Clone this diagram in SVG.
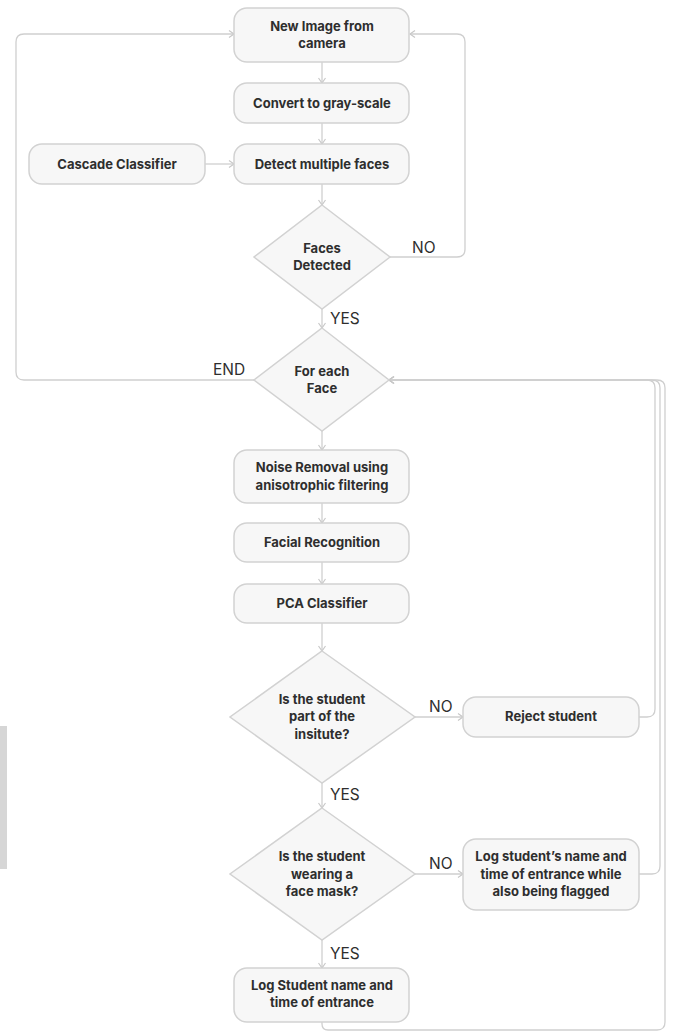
<svg xmlns="http://www.w3.org/2000/svg" width="674" height="1032" viewBox="0 0 674 1032">
<defs>
<marker id="arr" markerUnits="userSpaceOnUse" markerWidth="10" markerHeight="10" refX="6" refY="4" orient="auto">
<path d="M1,0.5 L6,4 L1,7.5" fill="none" stroke="#c8c8c8" stroke-width="1.2"/>
</marker>
</defs>
<style>
.box{fill:#f7f7f7;stroke:#d2d2d2;stroke-width:1.5}
.t{font-family:Inter,"Liberation Sans",sans-serif;font-weight:700;font-size:13px;fill:#2e2e2e;text-anchor:middle}
.lbl{font-family:Inter,"Liberation Sans",sans-serif;font-weight:400;font-size:15.5px;fill:#2e2e2e}
.c{fill:none;stroke:#cfcfcf;stroke-width:1.3}
</style>
<rect width="674" height="1032" fill="#ffffff"/>
<rect x="0" y="726" width="7" height="143" fill="#d6d6d6"/>
<g id="connectors">
<path class="c" d="M322 62 V83" marker-end="url(#arr)"/>
<path class="c" d="M322 123 V144" marker-end="url(#arr)"/>
<path class="c" d="M205 164 H234" marker-end="url(#arr)"/>
<path class="c" d="M322 184 V205" marker-end="url(#arr)"/>
<path class="c" d="M390 257 H457 Q465 257 465 249 V42 Q465 34 457 34 H410" marker-end="url(#arr)"/>
<path class="c" d="M322 309 V328" marker-end="url(#arr)"/>
<path class="c" d="M254 380 H24 Q16 380 16 372 V42 Q16 34 24 34 H234" marker-end="url(#arr)"/>
<path class="c" d="M322 431 V450" marker-end="url(#arr)"/>
<path class="c" d="M322 503 V523" marker-end="url(#arr)"/>
<path class="c" d="M322 562 V584" marker-end="url(#arr)"/>
<path class="c" d="M322 623 V651" marker-end="url(#arr)"/>
<path class="c" d="M415 717 H463" marker-end="url(#arr)"/>
<path class="c" d="M639 717 H647 Q655 717 655 709 V388 Q655 380 647 380 H389" marker-end="url(#arr)"/>
<path class="c" d="M322 783 V808" marker-end="url(#arr)"/>
<path class="c" d="M415 874 H463" marker-end="url(#arr)"/>
<path class="c" d="M639 874 H652 Q660 874 660 866 V388 Q660 380 652 380 H389" marker-end="url(#arr)"/>
<path class="c" d="M322 940 V968" marker-end="url(#arr)"/>
<path class="c" d="M322 1022 V1024 Q322 1030 328 1030 H657 Q665 1030 665 1022 V388 Q665 380 657 380 H389" marker-end="url(#arr)"/>
<text class="lbl" x="412" y="253">NO</text>
<text class="lbl" x="330" y="324">YES</text>
<text class="lbl" x="213" y="375">END</text>
<text class="lbl" x="429" y="712">NO</text>
<text class="lbl" x="330" y="800">YES</text>
<text class="lbl" x="429" y="869">NO</text>
<text class="lbl" x="330" y="959">YES</text>
</g>
<g id="new-image">
<rect class="box" x="234" y="8" width="175" height="54" rx="13"/>
<text class="t" x="322" y="31">New Image from</text>
<text class="t" x="322" y="48">camera</text>
</g>
<g id="gray-scale">
<rect class="box" x="234" y="83" width="175" height="40" rx="13"/>
<text class="t" x="322" y="108">Convert to gray-scale</text>
</g>
<g id="cascade">
<rect class="box" x="29" y="144" width="176" height="40" rx="13"/>
<text class="t" x="117" y="169">Cascade Classifier</text>
</g>
<g id="detect">
<rect class="box" x="234" y="144" width="175" height="40" rx="13"/>
<text class="t" x="322" y="169">Detect multiple faces</text>
</g>
<g id="faces-detected">
<polygon class="box" points="322,205 390,257 322,309 254,257"/>
<text class="t" x="322" y="253">Faces</text>
<text class="t" x="322" y="270">Detected</text>
</g>
<g id="for-each">
<polygon class="box" points="322,328 389,380 322,431 254,380"/>
<text class="t" x="322" y="376">For each</text>
<text class="t" x="322" y="393">Face</text>
</g>
<g id="noise">
<rect class="box" x="234" y="450" width="175" height="53" rx="13"/>
<text class="t" x="322" y="472">Noise Removal using</text>
<text class="t" x="322" y="490">anisotrophic filtering</text>
</g>
<g id="facial">
<rect class="box" x="234" y="523" width="175" height="39" rx="13"/>
<text class="t" x="322" y="547">Facial Recognition</text>
</g>
<g id="pca">
<rect class="box" x="234" y="584" width="175" height="39" rx="13"/>
<text class="t" x="322" y="608">PCA Classifier</text>
</g>
<g id="is-part">
<polygon class="box" points="322,651 415,717 322,783 230,717"/>
<text class="t" x="322" y="704">Is the student</text>
<text class="t" x="322" y="721">part of the</text>
<text class="t" x="322" y="739">insitute?</text>
</g>
<g id="reject">
<rect class="box" x="463" y="697" width="176" height="40" rx="13"/>
<text class="t" x="551" y="721">Reject student</text>
</g>
<g id="mask">
<polygon class="box" points="322,808 415,874 322,940 230,874"/>
<text class="t" x="322" y="861">Is the student</text>
<text class="t" x="322" y="879">wearing a</text>
<text class="t" x="322" y="896">face mask?</text>
</g>
<g id="log-flagged">
<rect class="box" x="463" y="839" width="176" height="71" rx="13"/>
<text class="t" x="551" y="861">Log student’s name and</text>
<text class="t" x="551" y="879">time of entrance while</text>
<text class="t" x="551" y="896">also being flagged</text>
</g>
<g id="log-student">
<rect class="box" x="234" y="968" width="175" height="54" rx="13"/>
<text class="t" x="322" y="990">Log Student name and</text>
<text class="t" x="322" y="1007">time of entrance</text>
</g>
</svg>
